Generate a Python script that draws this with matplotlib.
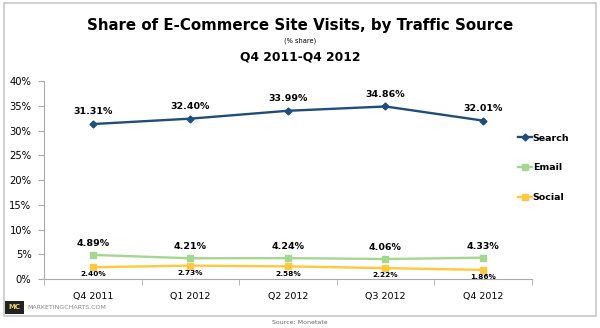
import numpy as np
import matplotlib.pyplot as plt
from matplotlib.patches import Rectangle

quarters = ["Q4 2011", "Q1 2012", "Q2 2012", "Q3 2012", "Q4 2012"]
search = [31.31, 32.40, 33.99, 34.86, 32.01]
email = [4.89, 4.21, 4.24, 4.06, 4.33]
social = [2.40, 2.73, 2.58, 2.22, 1.86]

plt.rcParams['font.family'] = ['DejaVu Sans']

fig = plt.figure(figsize=(6, 3.28), dpi=100)
ax = fig.add_axes([0.0733, 0.149, 0.813, 0.604])

x = np.arange(len(quarters))
c_search, c_email, c_social = "#1f4e7a", "#a5d88f", "#ffc83d"

ax.plot(x, search, color=c_search, lw=1.7, marker="D", ms=3.5, label="Search")
ax.plot(x, email, color=c_email, lw=1.7, marker="s", ms=4.5, label="Email")
ax.plot(x, social, color=c_social, lw=1.7, marker="s", ms=4.5, label="Social")

for xi, v in zip(x, search):
    ax.annotate(f"{v:.2f}%", (xi, v), xytext=(0, 5.5), textcoords="offset points",
                ha="center", va="bottom", fontsize=6.8, fontweight="bold")
for xi, v in zip(x, email):
    ax.annotate(f"{v:.2f}%", (xi, v), xytext=(0, 5), textcoords="offset points",
                ha="center", va="bottom", fontsize=6.8, fontweight="bold")
for xi, v in zip(x, social):
    ax.annotate(f"{v:.2f}%", (xi, v), xytext=(0, -3), textcoords="offset points",
                ha="center", va="top", fontsize=5.3, fontweight="bold")

ax.set_xlim(-0.5, len(quarters) - 0.5)
ax.set_ylim(0, 40)
ax.set_yticks(np.arange(0, 41, 5))
ax.set_yticklabels([f"{t}%" for t in range(0, 41, 5)])
ax.set_xticks(x)
ax.set_xticklabels(quarters)
ax.set_xticks(np.arange(-0.5, len(quarters), 1), minor=True)
ax.tick_params(axis="x", which="major", length=0, pad=9, labelsize=6.8)
ax.tick_params(axis="x", which="minor", length=4, color="#aaaaaa")
ax.tick_params(axis="y", length=4, color="#aaaaaa", labelsize=7.2, pad=5)
for s in ["top", "right"]:
    ax.spines[s].set_visible(False)
for s in ["left", "bottom"]:
    ax.spines[s].set_color("#aaaaaa")

fig.legend(*ax.get_legend_handles_labels(), loc="center left",
           bbox_to_anchor=(518 / 600, 0.488), frameon=False, borderpad=0,
           borderaxespad=0, handlelength=1.5, handletextpad=0.05,
           labelspacing=2.2, prop={"weight": "bold", "size": 6.8})

fig.text(0.5, 0.921, "Share of E-Commerce Site Visits, by Traffic Source",
         ha="center", va="center", fontsize=10.8, fontweight="bold")
fig.text(0.5, 0.875, "(% share)", ha="center", va="center", fontsize=4.8)
fig.text(0.5, 0.826, "Q4 2011-Q4 2012", ha="center", va="center",
         fontsize=8.8, fontweight="bold")

# outer frame
fig.patches.append(Rectangle((0.006, 0.037), 0.988, 0.953, transform=fig.transFigure,
                             fill=False, edgecolor="#c8c8c8", lw=1.2))
fig.patches.append(Rectangle((0.008, 0.043), 0.032, 0.04, transform=fig.transFigure,
                             facecolor="#222222", edgecolor="none"))
fig.text(0.024, 0.063, "MC", ha="center", va="center", fontsize=5,
         fontweight="bold", color="#e8d36a")
fig.text(0.045, 0.063, "MARKETINGCHARTS.COM", ha="left", va="center",
         fontsize=4.5, color="#888888")
fig.text(0.5, 0.017, "Source: Monetate", ha="center", va="center",
         fontsize=4.5, color="#666666")

fig.savefig("out.png", dpi=100)
